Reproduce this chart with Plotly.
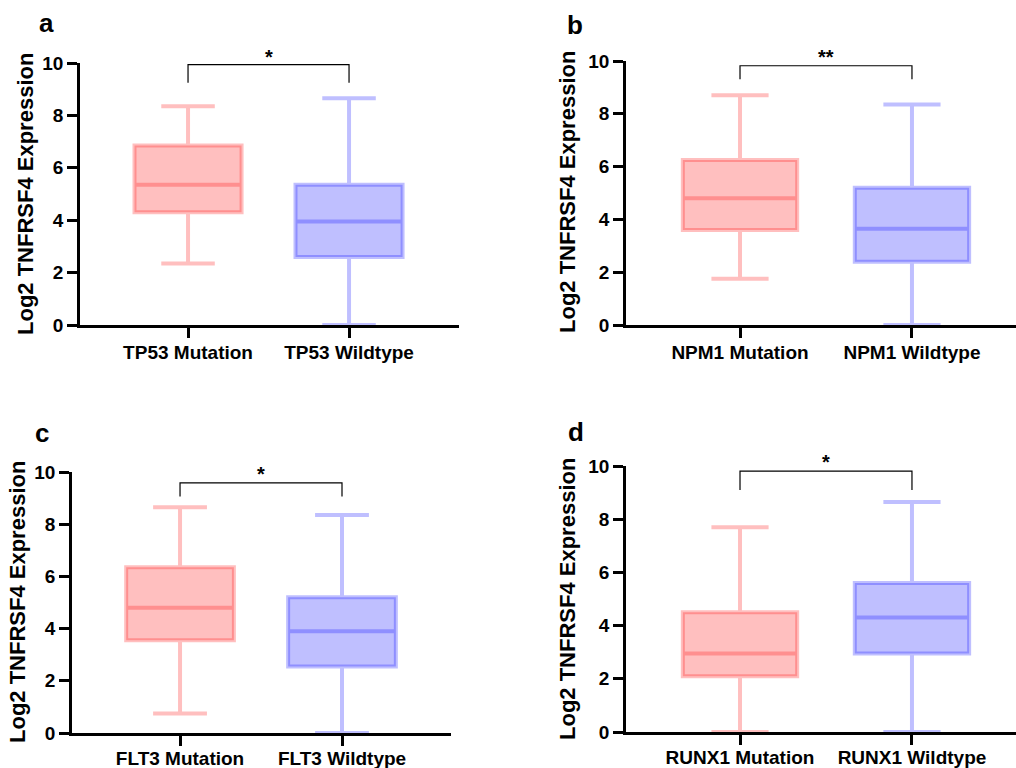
import plotly.graph_objects as go

W, H = 1016, 768

# ---- data ----
panel_letters = ["a", "b", "c", "d"]
genes = ["TP53", "NPM1", "FLT3", "RUNX1"]
groups = ["Mutation", "Wildtype"]
significance = ["*", "**", "*", "*"]

# [mutation, wildtype] for each panel
mins    = [[2.35, 0.0], [1.75, 0.0], [0.75, 0.0], [0.0, 0.0]]
q1s     = [[4.30, 2.60], [3.60, 2.40], [3.55, 2.55], [2.10, 2.95]]
medians = [[5.35, 3.95], [4.80, 3.65], [4.80, 3.90], [2.95, 4.30]]
q3s     = [[6.85, 5.35], [6.25, 5.20], [6.35, 5.20], [4.50, 5.60]]
maxs    = [[8.35, 8.65], [8.70, 8.35], [8.65, 8.35], [7.70, 8.65]]

# bracket heights (top, bottom of drops) per panel
bracket_top = [9.94, 9.82, 9.58, 9.81]
bracket_bot = [9.25, 9.31, 9.06, 9.10]

y_ticks = [0, 2, 4, 6, 8, 10]

# ---- layout geometry (pixels) ----
# plot areas: left, right, top(y=10), bottom(y=0)
areas = [(80, 459, 63, 325), (626, 1016, 61, 325), (72, 451, 472, 733), (626, 1016, 466, 732)]
xranges = [(-0.671, 1.683), (-0.663, 1.605), (-0.667, 1.673), (-0.663, 1.605)]
letter_pos = [(46, 23), (575, 25), (42, 433), (576, 432)]
ytitle_pos = [(25, 194), (567, 192), (17, 602), (567, 599)]
star_pos_y = [57, 57, 474, 462]
xlabel_shift = [-2, -2, -4, -4]

fills = ["rgba(255,0,0,0.25)", "rgba(0,0,255,0.25)"]
FONT = "Liberation Sans, Arial, sans-serif"

fig = go.Figure()
annotations = []

for i in range(4):
    ax = "" if i == 0 else str(i + 1)
    xref, yref = "x" + ax, "y" + ax
    cats = [f"{genes[i]} {g}" for g in groups]
    for j in range(2):
        fig.add_trace(go.Box(
            x=[cats[j]], q1=[q1s[i][j]], median=[medians[i][j]], q3=[q3s[i][j]],
            lowerfence=[mins[i][j]], upperfence=[maxs[i][j]],
            width=0.665, whiskerwidth=0.5, boxpoints=False,
            fillcolor=fills[j], line=dict(color=fills[j], width=4),
            xaxis=xref, yaxis=yref, showlegend=False, hoverinfo="skip",
        ))
    # significance bracket
    fig.add_trace(go.Scatter(
        x=[cats[0], cats[0], cats[1], cats[1]],
        y=[bracket_bot[i], bracket_top[i], bracket_top[i], bracket_bot[i]],
        mode="lines", line=dict(color="black", width=1.2),
        xaxis=xref, yaxis=yref, showlegend=False, hoverinfo="skip",
    ))
    l, r, t, b = areas[i]
    fig.layout["xaxis" + ax] = dict(
        domain=[l / W, min(r / W, 1)], anchor=yref, type="category",
        range=list(xranges[i]), showline=True, linecolor="black", linewidth=2.5,
        ticks="outside", ticklen=10, tickwidth=2.5, tickcolor="black",
        ticklabelstandoff=xlabel_shift[i],
        showgrid=False, zeroline=False, automargin=False,
        tickfont=dict(family=FONT, size=19, color="black", weight="bold"),
    )
    fig.layout["yaxis" + ax] = dict(
        domain=[1 - b / H, 1 - t / H], anchor=xref, range=[0, 10],
        tickvals=y_ticks, showline=True, linecolor="black", linewidth=2.5,
        ticks="outside", ticklen=10, tickwidth=2.5, tickcolor="black",
        showgrid=False, zeroline=False, automargin=False,
        tickfont=dict(family=FONT, size=19, color="black", weight="bold"),
    )
    lx, ly = letter_pos[i]
    annotations.append(dict(
        x=lx / W, y=1 - ly / H, xref="paper", yref="paper", text=panel_letters[i],
        showarrow=False, xanchor="center", yanchor="middle",
        font=dict(family=FONT, size=26, color="black", weight="bold"),
    ))
    tx, ty = ytitle_pos[i]
    annotations.append(dict(
        x=tx / W, y=1 - ty / H, xref="paper", yref="paper",
        text="Log2 TNFRSF4 Expression", textangle=-90,
        showarrow=False, xanchor="center", yanchor="middle",
        font=dict(family=FONT, size=22, color="black", weight="bold"),
    ))
    annotations.append(dict(
        x=0.5, y=1 - star_pos_y[i] / H, xref=xref, yref="paper",
        text=significance[i], showarrow=False, xanchor="center", yanchor="middle",
        font=dict(family=FONT, size=20, color="black", weight="bold"),
    ))

fig.update_layout(
    template="none",
    width=W, height=H, margin=dict(l=0, r=0, t=0, b=0, autoexpand=False),
    paper_bgcolor="white", plot_bgcolor="white",
    annotations=annotations, showlegend=False,
)

fig.write_html(
    "out.html",
    config={"displayModeBar": False},
    post_script="document.body.style.margin='0px';document.body.style.overflow='hidden';",
)
